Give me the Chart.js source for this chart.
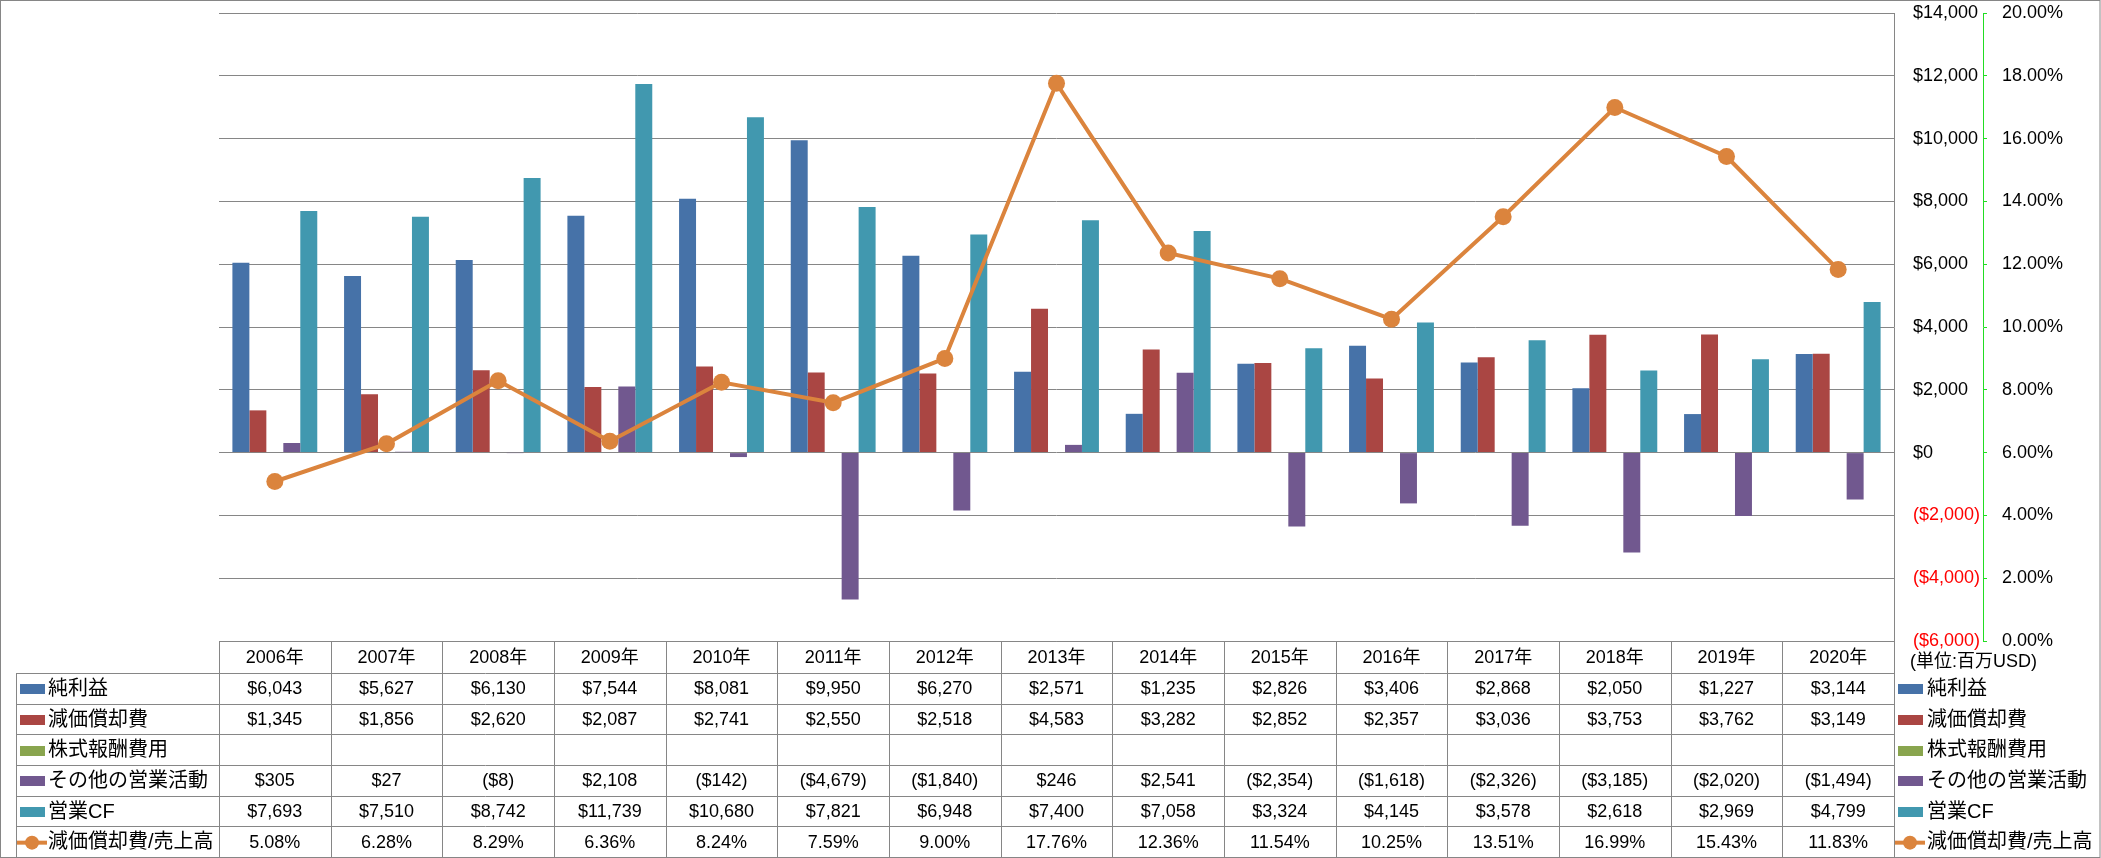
<!DOCTYPE html>
<html>
<head>
<meta charset="utf-8">
<script src="https://cdn.jsdelivr.net/npm/chart.js@4.4.0/dist/chart.umd.min.js"></script>
<style>
html,body{margin:0;padding:0;background:#fff;overflow:hidden}
#wrap{position:relative;width:2101px;height:858px}
</style>
</head>
<body>
<div id="wrap"><canvas id="c" width="2101" height="858"></canvas></div>
<script>
// ---- data ----
const years = ['2006年','2007年','2008年','2009年','2010年','2011年','2012年','2013年','2014年','2015年','2016年','2017年','2018年','2019年','2020年'];
const netIncome    = [6043,5627,6130,7544,8081,9950,6270,2571,1235,2826,3406,2868,2050,1227,3144];
const depreciation = [1345,1856,2620,2087,2741,2550,2518,4583,3282,2852,2357,3036,3753,3762,3149];
const stockComp    = [null,null,null,null,null,null,null,null,null,null,null,null,null,null,null];
const otherOps     = [305,27,-8,2108,-142,-4679,-1840,246,2541,-2354,-1618,-2326,-3185,-2020,-1494];
const operatingCF  = [7693,7510,8742,11739,10680,7821,6948,7400,7058,3324,4145,3578,2618,2969,4799];
const depRatio     = [5.08,6.28,8.29,6.36,8.24,7.59,9.00,17.76,12.36,11.54,10.25,13.51,16.99,15.43,11.83];
const seriesNames  = ['純利益','減価償却費','株式報酬費用','その他の営業活動','営業CF','減価償却費/売上高'];
const seriesColors = ['#4672A8','#AA4643','#89A54E','#71588F','#4198AF','#DB843D'];
const leftAxis  = {min:-6000, max:14000, step:2000};
const rightAxis = {min:0, max:20, step:2};
const unitLabel = '(単位:百万USD)';

// ---- formatting ----
function money(v){
  if (v === null || v === undefined) return '';
  const s = '$' + Math.abs(v).toLocaleString('en-US');
  return v < 0 ? '(' + s + ')' : s;
}
function pct(v){ return (v === null || v === undefined) ? '' : v.toFixed(2) + '%'; }

const NUMFONT = "'Liberation Sans', Arial, 'Noto Sans CJK JP', sans-serif";
const JPFONT  = "'Liberation Sans', 'Noto Sans CJK JP', sans-serif";
const GRID = '#868686';

const tablePlugin = {
  id: 'tableAndLegend',
  beforeDraw(chart){
    const ctx = chart.ctx;
    ctx.save();
    ctx.fillStyle = '#fff';
    ctx.fillRect(0,0,chart.width,chart.height);
    ctx.restore();
  },
  afterDraw(chart){
    const ctx = chart.ctx;
    const x = chart.scales.x;
    const ca = chart.chartArea;
    const n = years.length;
    const half = (x.getPixelForValue(1) - x.getPixelForValue(0)) / 2;
    const colL = x.getPixelForValue(0) - half;
    const colR = x.getPixelForValue(n-1) + half;
    const top = ca.bottom;
    const bottom = chart.height - 1;
    const headerH = 32;
    const rowH = (bottom - top - headerH) / 6;
    const labelL = 16;

    const rows = [
      {name: seriesNames[0], vals: netIncome.map(money),    color: seriesColors[0]},
      {name: seriesNames[1], vals: depreciation.map(money), color: seriesColors[1]},
      {name: seriesNames[2], vals: stockComp.map(money),    color: seriesColors[2]},
      {name: seriesNames[3], vals: otherOps.map(money),     color: seriesColors[3]},
      {name: seriesNames[4], vals: operatingCF.map(money),  color: seriesColors[4]},
      {name: seriesNames[5], vals: depRatio.map(pct),       color: seriesColors[5], line: true}
    ];

    ctx.save();
    ctx.strokeStyle = GRID;
    ctx.lineWidth = 1;
    const px = v => Math.round(v) + 0.5;
    ctx.beginPath();
    ctx.moveTo(colL, px(top)); ctx.lineTo(colR, px(top));
    for (let r = 0; r <= 6; r++) {
      const y = px(top + headerH + r * rowH);
      ctx.moveTo(labelL, y); ctx.lineTo(colR, y);
    }
    ctx.moveTo(px(labelL), top + headerH); ctx.lineTo(px(labelL), bottom);
    for (let i = 0; i <= n; i++) {
      const xx = px(colL + i * half * 2);
      ctx.moveTo(xx, top); ctx.lineTo(xx, bottom);
    }
    ctx.stroke();

    ctx.fillStyle = '#000';
    ctx.textAlign = 'center';
    ctx.textBaseline = 'middle';
    ctx.font = '18px ' + NUMFONT;
    years.forEach((y, i) => ctx.fillText(y, x.getPixelForValue(i), top + headerH/2 + 1));

    rows.forEach((row, r) => {
      const cy = top + headerH + r * rowH + rowH/2 + 1;
      ctx.font = '18px ' + NUMFONT;
      ctx.textAlign = 'center';
      ctx.fillStyle = '#000';
      row.vals.forEach((v, i) => ctx.fillText(v, x.getPixelForValue(i), cy));
      drawKey(ctx, row, 20, cy);
      ctx.font = '20px ' + JPFONT;
      ctx.textAlign = 'left';
      ctx.fillStyle = '#000';
      ctx.fillText(row.name, 48, cy);
      drawKey(ctx, row, 1898, cy);
      ctx.font = '20px ' + JPFONT;
      ctx.fillStyle = '#000';
      ctx.fillText(row.name, 1927, cy);
    });

    ctx.font = '18px ' + JPFONT;
    ctx.textAlign = 'left';
    ctx.fillStyle = '#000';
    ctx.fillText(unitLabel, 1910, top + 21);

    ctx.strokeStyle = GRID;
    ctx.lineWidth = 1;
    ctx.strokeRect(0.5, 0.5, chart.width - 1.5, chart.height - 1);
    ctx.restore();
  }
};

function drawKey(ctx, row, x0, cy){
  ctx.save();
  if (row.line) {
    ctx.strokeStyle = row.color;
    ctx.lineWidth = 4;
    ctx.beginPath();
    ctx.moveTo(x0 - 3, cy); ctx.lineTo(x0 + 27, cy);
    ctx.stroke();
    ctx.fillStyle = row.color;
    ctx.beginPath();
    ctx.arc(x0 + 12, cy, 7, 0, Math.PI * 2);
    ctx.fill();
  } else {
    ctx.fillStyle = row.color;
    ctx.fillRect(x0, Math.round(cy - 5), 25, 10);
  }
  ctx.restore();
}

const barDatasets = [netIncome, depreciation, stockComp, otherOps, operatingCF].map((d, i) => ({
  type: 'bar',
  label: seriesNames[i],
  data: d,
  backgroundColor: seriesColors[i],
  borderWidth: 0,
  yAxisID: 'y',
  order: 2,
  categoryPercentage: 0.76,
  barPercentage: 1.0
}));

const lineDataset = {
  type: 'line',
  label: seriesNames[5],
  data: depRatio,
  borderColor: seriesColors[5],
  backgroundColor: seriesColors[5],
  borderWidth: 4,
  pointRadius: 8.5,
  pointHoverRadius: 8.5,
  pointBackgroundColor: seriesColors[5],
  pointBorderWidth: 0,
  tension: 0,
  yAxisID: 'y2',
  order: 1
};

function fixVPad(width){
  return s => { s.width = width; s.paddingTop = 8; s.paddingBottom = 8; };
}

new Chart(document.getElementById('c'), {
  data: { labels: years, datasets: [...barDatasets, lineDataset] },
  options: {
    responsive: false,
    animation: false,
    devicePixelRatio: 1,
    layout: { padding: { left: 219, right: 0, top: 13, bottom: 217 } },
    plugins: { legend: { display: false }, tooltip: { enabled: false } },
    scales: {
      x: { display: false, offset: true },
      y: {
        position: 'right',
        min: leftAxis.min, max: leftAxis.max,
        ticks: {
          stepSize: leftAxis.step,
          padding: 19,
          font: { family: NUMFONT, size: 18 },
          color: c => (c.tick && c.tick.value < 0) ? '#FF0000' : '#000000',
          callback: v => money(v)
        },
        grid: { color: GRID, lineWidth: 1, drawTicks: false },
        border: { display: true, color: GRID, width: 1 },
        afterFit: fixVPad(89)
      },
      y2: {
        position: 'right',
        min: rightAxis.min, max: rightAxis.max,
        ticks: {
          stepSize: rightAxis.step,
          padding: 15,
          font: { family: NUMFONT, size: 18 },
          color: '#000000',
          callback: v => pct(v)
        },
        grid: { drawOnChartArea: false, drawTicks: true, tickLength: 4, color: '#22DD22', lineWidth: 1 },
        border: { display: true, color: '#22DD22', width: 1, dash: [4, 4] },
        afterFit: fixVPad(118)
      }
    }
  },
  plugins: [tablePlugin]
});
</script>
</body>
</html>
